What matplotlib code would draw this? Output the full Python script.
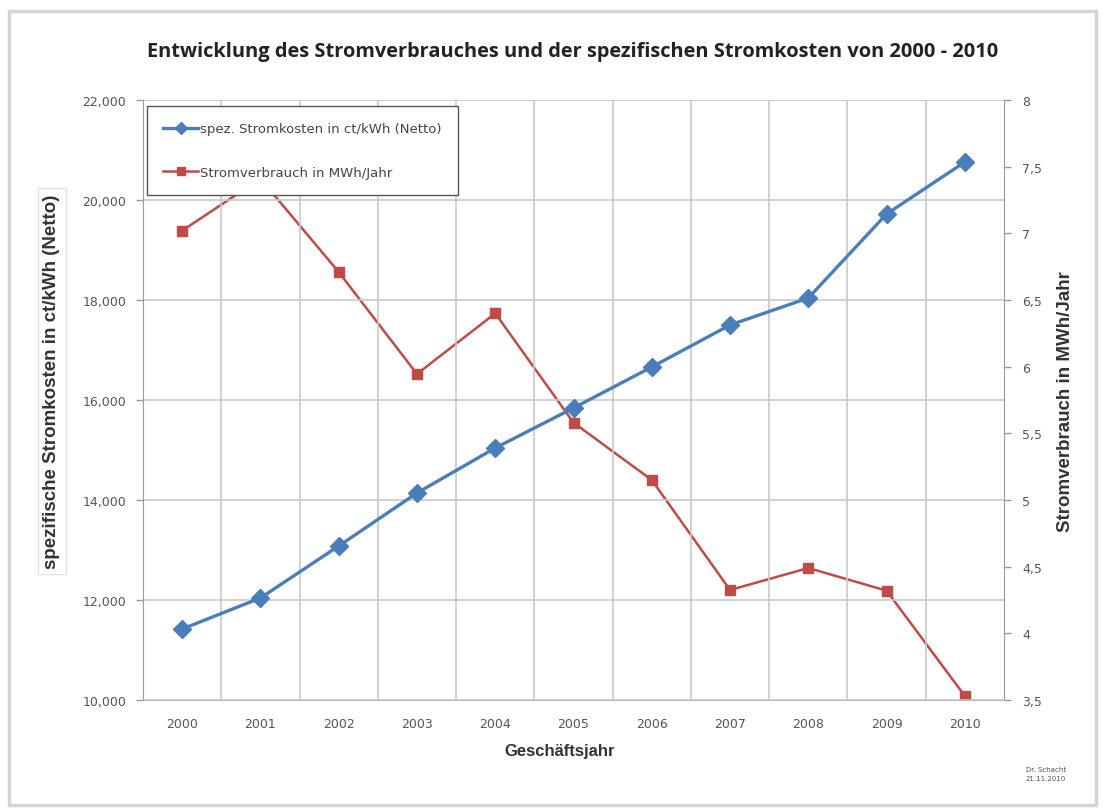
import matplotlib
matplotlib.use("Agg")
import matplotlib.pyplot as plt
from matplotlib.patches import Rectangle
from matplotlib.ticker import FixedLocator, FuncFormatter

years = ["2000", "2001", "2002", "2003", "2004", "2005", "2006", "2007", "2008", "2009", "2010"]
kosten = [11420, 12040, 13080, 14140, 15040, 15840, 16660, 17500, 18040, 19720, 20760]
verbrauch = [7.02, 7.41, 6.71, 5.945, 6.40, 5.58, 5.15, 4.325, 4.49, 4.32, 3.53]

left_ticks = [10000, 12000, 14000, 16000, 18000, 20000, 22000]
right_ticks = [3.5, 4, 4.5, 5, 5.5, 6, 6.5, 7, 7.5, 8]

title = "Entwicklung des Stromverbrauches und der spezifischen Stromkosten von 2000 - 2010"
label_left = "spezifische Stromkosten in ct/kWh (Netto)"
label_right = "Stromverbrauch in MWh/Jahr"
label_x = "Geschäftsjahr"
name_kosten = "spez. Stromkosten in ct/kWh (Netto)"
name_verbrauch = "Stromverbrauch in MWh/Jahr"
signature = "Dr. Schacht\n21.11.2010"

BLUE = "#4a7ebb"
RED = "#be4b48"
GRID = "#c9c9c9"
TICKC = "#555555"

W, H = 1103, 812
fig = plt.figure(figsize=(W / 100, H / 100), dpi=100)
fig.patches.append(Rectangle((0.008, 0.008), 0.986, 0.977, transform=fig.transFigure,
                             fill=False, edgecolor="#d4d4d4", lw=2.5))

ax = fig.add_axes([143 / W, 1 - 701 / H, (1004 - 143) / W, 600 / H])
ax2 = ax.twinx()
ax.set_zorder(ax2.get_zorder() + 1)
ax.patch.set_visible(False)

x = list(range(len(years)))
l2, = ax2.plot(x, verbrauch, color=RED, lw=1.8, marker="s", markersize=6.5,
               markerfacecolor=RED, markeredgecolor=RED, label=name_verbrauch)
l1, = ax.plot(x, kosten, color=BLUE, lw=2.4, marker="D", markersize=9,
              markerfacecolor=BLUE, markeredgecolor=BLUE, label=name_kosten)

ax.set_xlim(-0.5, len(years) - 0.5)
ax.set_ylim(10000, 22000)
ax2.set_ylim(3.5, 8)

ax.set_xticks(x)
ax.set_xticklabels(years)
ax.xaxis.set_minor_locator(FixedLocator([i + 0.5 for i in range(len(years) - 1)]))
ax.tick_params(axis="x", which="both", length=0, labelsize=9, colors=TICKC, pad=12)
ax.grid(axis="x", which="minor", color=GRID, lw=1.2)

ax.set_yticks(left_ticks)
ax.yaxis.set_major_formatter(FuncFormatter(lambda v, p: f"{int(v):,}"))
ax.grid(axis="y", which="major", color=GRID, lw=1.2)
ax.tick_params(axis="y", length=5, width=1, color="#999999", labelsize=9, labelcolor=TICKC, pad=7)

ax2.set_yticks(right_ticks)
ax2.yaxis.set_major_formatter(FuncFormatter(lambda v, p: (f"{v:g}").replace(".", ",")))
ax2.tick_params(axis="y", length=5, width=1, color="#999999", labelsize=9, labelcolor=TICKC, pad=8)

for a in (ax, ax2):
    for s in ("top", "right", "left", "bottom"):
        a.spines[s].set_visible(False)
ax.spines["left"].set_visible(True)
ax.spines["left"].set_color("#999999")
ax.spines["bottom"].set_visible(True)
ax.spines["bottom"].set_color("#bbbbbb")
ax2.spines["right"].set_visible(True)
ax2.spines["right"].set_color("#999999")

ax.axhline(22000, color=GRID, lw=1.2)

fig.text(573 / W, 1 - 52 / H, title, ha="center", va="center", fontsize=14.4,
         fontweight="bold", family="Open Sans", color="#222222")

fig.text(52 / W, 1 - 382 / H, label_left, rotation=90, ha="center", va="center",
         fontsize=13.5, fontweight="bold", family="Liberation Sans", color="#333333",
         bbox=dict(boxstyle="square,pad=0.3", fc="none", ec="#e2e2e2", lw=1))
fig.text(1065 / W, 1 - 402 / H, label_right, rotation=90, ha="center", va="center",
         fontsize=13.5, fontweight="bold", family="Liberation Sans", color="#333333")
fig.text(560 / W, 1 - 752 / H, label_x, ha="center", va="center",
         fontsize=12, fontweight="bold", family="Liberation Sans", color="#333333")

leg = ax.legend(handles=[l1, l2], loc="upper left", bbox_to_anchor=(4 / 861, 1 - 6 / 600),
                fontsize=9.5, frameon=True, fancybox=False, framealpha=1,
                edgecolor="#555555", labelspacing=2.3, borderpad=1.25,
                handlelength=2.65, handletextpad=0.15, borderaxespad=0)
leg.get_frame().set_linewidth(1.0)
for t in leg.get_texts():
    t.set_color("#444444")
for h in leg.legend_handles:
    h.set_markersize(6)

fig.text(1046 / W, 1 - 775 / H, signature, ha="center", va="center", fontsize=5,
         color="#555555", linespacing=1.6)

fig.savefig("out.png", dpi=100)
